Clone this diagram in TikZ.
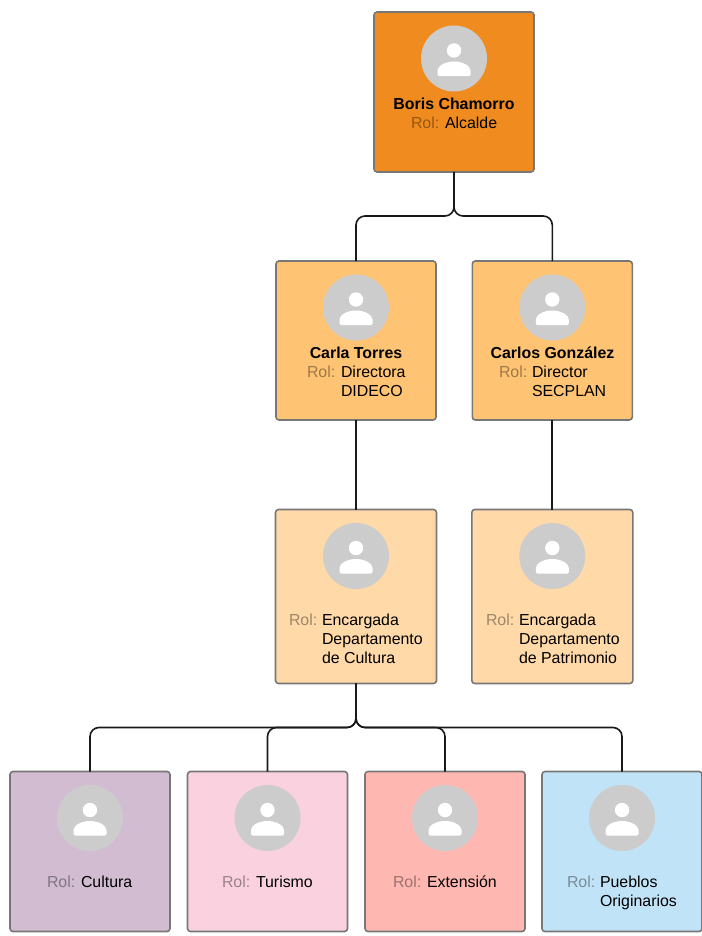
\documentclass[tikz,border=0pt]{standalone}
\usepackage{fontspec}
\setmainfont{Liberation Sans}
\definecolor{cBoss}{HTML}{F08C1F}
\definecolor{cDir}{HTML}{FFC374}
\definecolor{cEnc}{HTML}{FFD9A8}
\definecolor{cCult}{HTML}{D1BCD2}
\definecolor{cTur}{HTML}{FAD1DE}
\definecolor{cExt}{HTML}{FFB8B1}
\definecolor{cPue}{HTML}{C1E3F7}
\definecolor{cBorder}{HTML}{777777}
\definecolor{cIcon}{HTML}{CCCCCC}
\tikzset{
  cardbox/.style={draw=cBorder,line width=1.6pt,rounded corners=3pt,inner sep=0pt,outer sep=0pt,rectangle},
  conn/.style={draw=black!90,line width=1.6pt,rounded corners=9pt},
  txt/.style={inner sep=0pt,outer sep=0pt,anchor=base west,font=\fontsize{15.9pt}{19pt}\selectfont,text=black},
  nametxt/.style={inner sep=0pt,outer sep=0pt,anchor=base,font=\fontsize{15.9pt}{19pt}\selectfont\bfseries,text=black},
  avatar/.style={circle,fill=cIcon,minimum size=66pt,inner sep=0pt,outer sep=0pt}
}
% name, center x, top y, height, fill, width
\newcommand{\cardnode}[6]{%
  \node[cardbox,fill=#5,minimum width=#6pt,minimum height=#4pt] (#1) at (#2,#3+#4/2) {};
  \node[avatar] (#1av) at (#2,#3+46.5) {};
  \fill[white] (#2,#3+38.5) circle (7.2pt);
  \fill[white,rounded corners=1.5pt] (#2-16.5,#3+64.2) -- (#2-16.5,#3+60) arc[start angle=180,end angle=0,x radius=16.5pt,y radius=10.5pt] -- (#2+16.5,#3+64.2) -- cycle;
}
% name, rol x, value x, baseline y, fill colour, value
\newcommand{\rolnode}[6]{%
  \node[txt,text=#5!62!black] (#1rol) at (#2,#4) {Rol:};
  \node[txt] (#1val) at (#3,#4) {#6};
}
\begin{document}
\begin{tikzpicture}[x=1pt,y=-1pt]
\useasboundingbox (0,0) rectangle (701,936);
\cardnode{boss}{454}{12}{160}{cBoss}{160}
\cardnode{carla}{356}{261}{159}{cDir}{160}
\cardnode{carlos}{552.3}{261}{159}{cDir}{160}
\cardnode{encc}{356}{509.5}{174}{cEnc}{161}
\cardnode{encp}{552.3}{509.5}{174}{cEnc}{161}
\cardnode{cult}{90}{771.5}{160}{cCult}{160}
\cardnode{tur}{267.5}{771.5}{160}{cTur}{160}
\cardnode{ext}{445}{771.5}{160}{cExt}{160}
\cardnode{pue}{622}{771.5}{160}{cPue}{160}
\draw[conn] (boss.south) -- ++(0,44) -| (carla.north);
\draw[conn] (boss.south) -- ++(0,44) -| (carlos.north);
\draw[conn,line width=1.2pt] (carla.south) -- (encc.north);
\draw[conn,line width=1.9pt] (carlos.south) -- (encp.north);
\draw[conn] (encc.south) -- ++(0,44) -| (cult.north);
\draw[conn] (encc.south) -- ++(0,44) -| (tur.north);
\draw[conn] (encc.south) -- ++(0,44) -| (ext.north);
\draw[conn] (encc.south) -- ++(0,44) -| (pue.north);
\node[nametxt] (bossname) at (454,109.5) {Boris Chamorro};
\rolnode{boss}{411}{445}{128.5}{cBoss}{Alcalde}
\node[nametxt] (carlaname) at (356,358) {Carla Torres};
\rolnode{carla}{307}{341}{377.5}{cDir}{Directora}
\node[txt] (carlaval2) at (341,396.5) {DIDECO};
\node[nametxt] (carlosname) at (552.5,358) {Carlos González};
\rolnode{carlos}{499}{532}{377.5}{cDir}{Director}
\node[txt] (carlosval2) at (532,396.5) {SECPLAN};
\rolnode{encc}{289}{322}{625.5}{cEnc}{Encargada}
\node[txt] (enccval2) at (322,644.5) {Departamento};
\node[txt] (enccval3) at (322,663.5) {de Cultura};
\rolnode{encp}{486}{519}{625.5}{cEnc}{Encargada}
\node[txt] (encpval2) at (519,644.5) {Departamento};
\node[txt] (encpval3) at (519,663.5) {de Patrimonio};
\rolnode{cult}{47}{81}{887.5}{cCult}{Cultura}
\rolnode{tur}{222}{256}{887.5}{cTur}{Turismo}
\rolnode{ext}{393}{427}{887.5}{cExt}{Extensión}
\rolnode{pue}{567}{600}{887.5}{cPue}{Pueblos}
\node[txt] (pueval2) at (600,906.5) {Originarios};
\end{tikzpicture}
\end{document}
